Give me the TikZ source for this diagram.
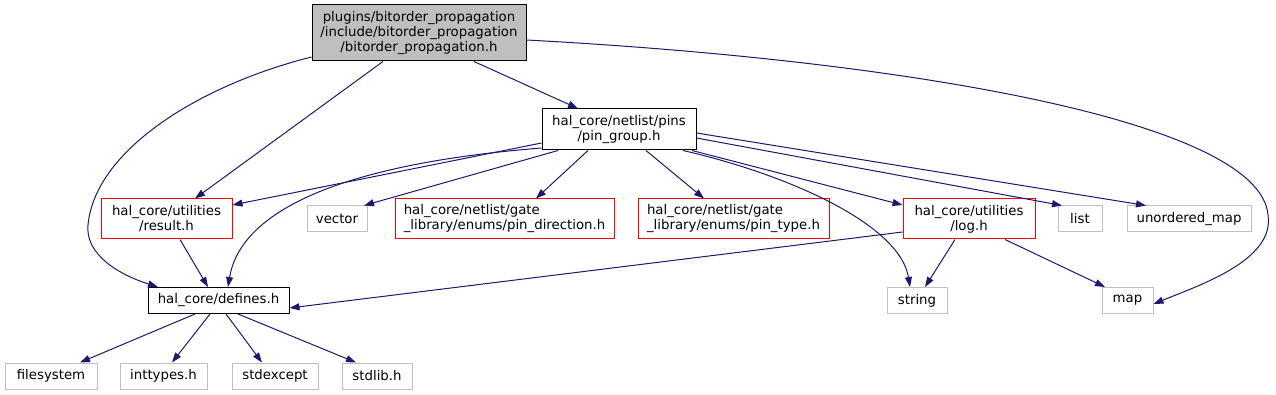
\documentclass[tikz,border=0pt]{standalone}
\usepackage{fontspec}
\setmainfont{DejaVu Sans}
\usetikzlibrary{arrows.meta}
\definecolor{edgeblue}{HTML}{191970}
\definecolor{boxgray}{HTML}{BFBFBF}
\begin{document}
\begin{tikzpicture}[x=1pt,y=-1pt,
  box/.style={draw, line width=1pt, inner sep=0pt, align=center, font=\fontsize{13.3}{15}\selectfont},
  blk/.style={box, draw=black},
  redb/.style={box, draw=red},
  grayb/.style={box, draw=boxgray},
  dep/.style={draw=edgeblue, line width=1pt, -{Triangle[length=10pt,width=7pt]}}]
\useasboundingbox (0,0) rectangle (1276,395);
% nodes
\node[blk, fill=boxgray, minimum width=214pt, minimum height=56pt] (top) at (419,33) {plugins/bitorder\_propagation\\/include/bitorder\_propagation\\/bitorder\_propagation.h};
\node[blk, minimum width=154pt, minimum height=41pt] (pg) at (619,129.5) {hal\_core/netlist/pins\\/pin\_group.h};
\node[redb, minimum width=131pt, minimum height=40pt] (res) at (166.5,219) {hal\_core/utilities\\/result.h};
\node[grayb, minimum width=60pt, minimum height=26pt] (vec) at (337,219) {vector};
\node[redb, align=left, minimum width=219pt, minimum height=40pt] (pdir) at (504.5,219) {hal\_core/netlist/gate\\\_library/enums/pin\_direction.h};
\node[redb, align=left, minimum width=191pt, minimum height=40pt] (ptype) at (733.5,219) {hal\_core/netlist/gate\\\_library/enums/pin\_type.h};
\node[redb, minimum width=132pt, minimum height=40pt] (log) at (969,219) {hal\_core/utilities\\/log.h};
\node[grayb, minimum width=44pt, minimum height=26pt] (list) at (1080,219) {list};
\node[grayb, minimum width=124pt, minimum height=26pt] (umap) at (1189,219) {unordered\_map};
\node[blk, minimum width=141pt, minimum height=26pt] (def) at (218.5,300.5) {hal\_core/defines.h};
\node[grayb, minimum width=60pt, minimum height=26pt] (str) at (917,300.5) {string};
\node[grayb, minimum width=51pt, minimum height=26pt] (map) at (1127.5,300.5) {map};
\node[grayb, minimum width=92pt, minimum height=26pt] (fs) at (51,376) {filesystem};
\node[grayb, minimum width=87pt, minimum height=26pt] (int) at (163.5,376) {inttypes.h};
\node[grayb, minimum width=86pt, minimum height=26pt] (sexc) at (275,376) {stdexcept};
\node[grayb, minimum width=70pt, minimum height=26pt] (slib) at (377,376) {stdlib.h};
% edges from top
\draw[dep] ([xshift=-36pt]top.south) -- ([xshift=28.5pt]res.north);
\draw[dep] ([xshift=55pt]top.south) -- ([xshift=-41pt]pg.north);
\draw[dep] ([yshift=-24pt]top.west) .. controls (200,85) and (95,150) .. (88,225) .. controls (85,255) and (120,275) .. ([xshift=-60.5pt]def.north);
\draw[dep] ([yshift=-7pt]top.east) .. controls (900,60) and (1260,120) .. (1268,215) .. controls (1275,260) and (1200,285) .. ([yshift=-3.5pt]map.east);
% edges from pin_group
\draw[dep] ([yshift=-13.5pt]pg.west) -- ([yshift=14pt]res.east);
\draw[dep] ([yshift=-18.5pt]pg.west) .. controls (330,165) and (240,215) .. ([xshift=9.5pt]def.north);
\draw[dep] ([xshift=-61pt]pg.south) -- ([xshift=27pt]vec.north);
\draw[dep] ([xshift=-31pt]pg.south) -- ([xshift=31.5pt]pdir.north);
\draw[dep] ([xshift=27pt]pg.south) -- ([xshift=-29.5pt]ptype.north);
\draw[dep] ([xshift=73pt]pg.south) -- ([yshift=14pt]log.west);
\draw[dep] ([xshift=64pt]pg.south) .. controls (790,175) and (900,225) .. ([xshift=-7pt]str.north);
\draw[dep] ([yshift=-8.5pt]pg.east) -- ([xshift=-18pt]list.north);
\draw[dep] ([yshift=-3.5pt]pg.east) -- ([xshift=-43pt]umap.north);
% edges from result.h
\draw[dep] ([xshift=13.5pt]res.south) -- ([xshift=-10.5pt]def.north);
% edges from log.h
\draw[dep] ([yshift=-13pt]log.west) -- ([yshift=-7.5pt]def.east);
\draw[dep] ([xshift=-14pt]log.south) -- ([xshift=8pt]str.north);
\draw[dep] ([xshift=36pt]log.south) -- ([xshift=-22.5pt]map.north);
% edges from defines.h
\draw[dep] ([xshift=-23.5pt]def.south) -- ([xshift=29pt]fs.north);
\draw[dep] ([xshift=-8.5pt]def.south) -- ([xshift=8.5pt]int.north);
\draw[dep] ([xshift=7.5pt]def.south) -- ([xshift=-13pt]sexc.north);
\draw[dep] ([xshift=19.5pt]def.south) -- ([xshift=-21pt]slib.north);
\end{tikzpicture}
\end{document}
